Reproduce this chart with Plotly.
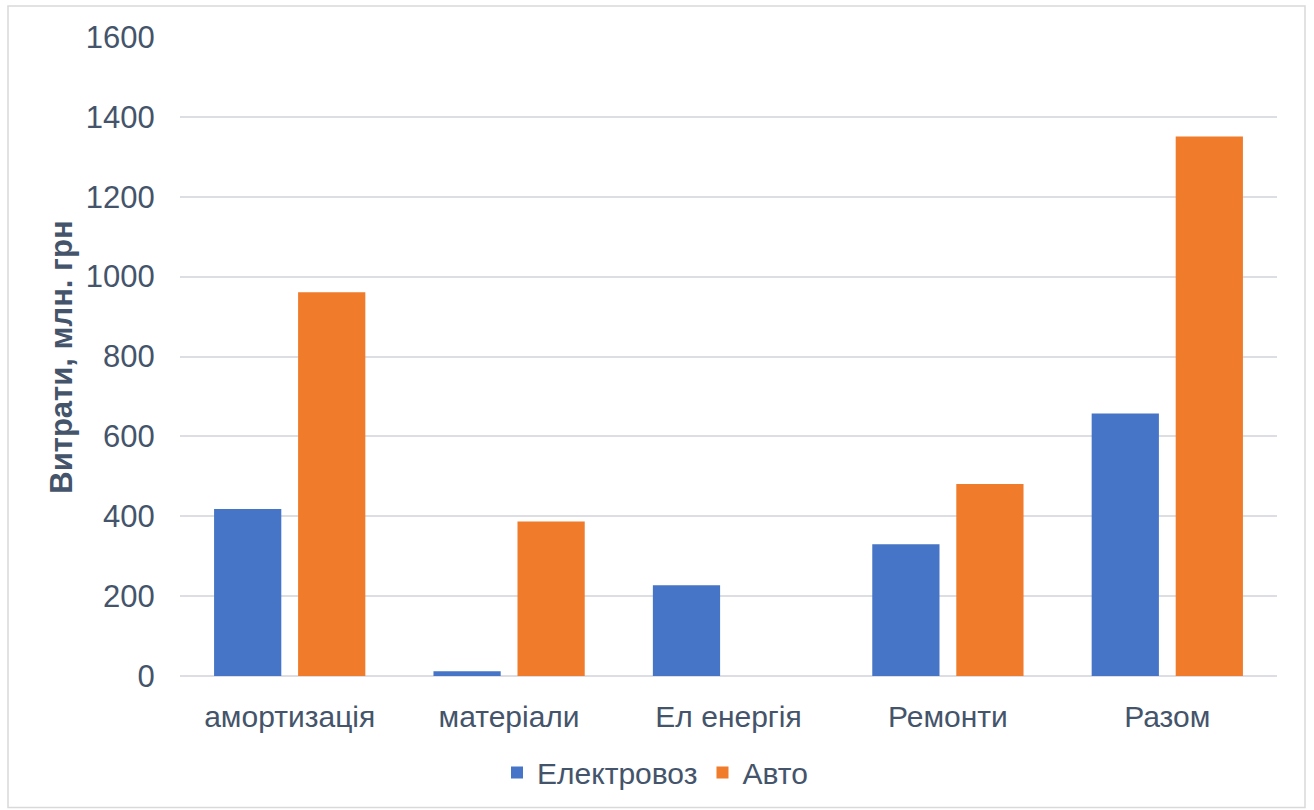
import plotly.graph_objects as go

categories = ["амортизація", "матеріали", "Ел енергія", "Ремонти", "Разом"]
elektrovoz = [418, 12, 227, 330, 657]
avto = [961, 387, 0, 481, 1351]
y_ticks = [0, 200, 400, 600, 800, 1000, 1200, 1400, 1600]

FONT = "Liberation Sans, Arial, sans-serif"
TEXT = "#44546A"

fig = go.Figure()
fig.add_trace(go.Bar(name="Електровоз", x=categories, y=elektrovoz,
                     marker=dict(color="#4674C6", line=dict(width=0))))
fig.add_trace(go.Bar(name="Авто", x=categories, y=avto,
                     marker=dict(color="#F07B2B", line=dict(width=0))))

L, R, T, B = 180, 37, 37, 133.5
W, H = 1314, 810
pw = W - L - R
ph = H - T - B

fig.update_layout(
    width=W, height=H,
    margin=dict(l=L, r=R, t=T, b=B, pad=0),
    paper_bgcolor="white", plot_bgcolor="white",
    barmode="group", bargap=0.234, bargroupgap=0.2,
    font=dict(family=FONT, color=TEXT, size=30),
    showlegend=True,
    legend=dict(orientation="h", x=(655 - L) / pw, xanchor="center",
                y=(H - B - 773) / ph, yanchor="middle",
                font=dict(size=30, color=TEXT), itemsizing="constant",
                traceorder="normal"),
    xaxis=dict(showgrid=False, showline=False, ticks="outside", ticklen=14,
               tickcolor="rgba(0,0,0,0)", tickfont=dict(size=30, color=TEXT),
               fixedrange=True),
    yaxis=dict(range=[0, 1600], tickvals=y_ticks, showgrid=True, gridcolor="#DDDEE3",
               gridwidth=1.5, zeroline=True, zerolinecolor="#DDDEE3", zerolinewidth=1.5,
               showline=False, ticks="outside", ticklen=18, tickcolor="rgba(0,0,0,0)",
               tickfont=dict(size=31, color=TEXT)),
    annotations=[dict(text="<b>Витрати, млн. грн</b>", textangle=-90,
                      xref="paper", yref="paper", x=(62 - L) / pw, y=(H - B - 358) / ph,
                      xanchor="center", yanchor="middle", showarrow=False,
                      font=dict(size=31, color=TEXT, family=FONT))],
    shapes=[dict(type="rect", xref="paper", yref="paper",
                 x0=(8 - L) / pw, x1=(1305 - L) / pw,
                 y0=(H - B - 808) / ph, y1=(H - B - 6) / ph,
                 line=dict(color="#D9D9D9", width=1.5), fillcolor="rgba(0,0,0,0)",
                 layer="below")],
)

fig.write_html("out.html")
